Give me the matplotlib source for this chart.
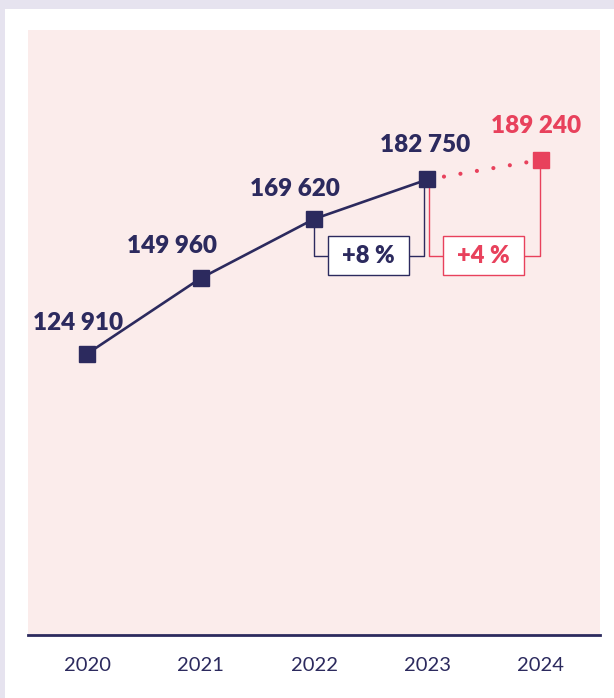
import matplotlib
matplotlib.use("Agg")
import matplotlib.pyplot as plt
from matplotlib.patches import Rectangle

years = ["2020", "2021", "2022", "2023", "2024"]
values = [124910, 149960, 169620, 182750, 189240]
value_labels = ["124 910", "149 960", "169 620", "182 750", "189 240"]
growth_labels = ["+8 %", "+4 %"]

NAVY = "#2c2a5e"
RED = "#e8415c"
PINK = "#fbeceb"
BORDER = "#e6e3ef"
BOLD_FONT = ["Lato"]

W, H = 614, 698
fig = plt.figure(figsize=(W / 100, H / 100), dpi=100)
fig.patch.set_facecolor("white")
# outer frame strips
fig.add_artist(Rectangle((0, 1 - 9 / H), 1, 9 / H, transform=fig.transFigure, color=BORDER, lw=0))
fig.add_artist(Rectangle((0, 0), 5 / W, 1, transform=fig.transFigure, color=BORDER, lw=0))

ax = fig.add_axes([28 / W, (H - 635) / H, 572 / W, 605 / H])
ax.set_facecolor(PINK)
ax.set_xlim(-0.52, 4.52)
ax.set_ylim(31700, 232300)
for s in ["top", "right", "left"]:
    ax.spines[s].set_visible(False)
ax.spines["bottom"].set_color(NAVY)
ax.spines["bottom"].set_linewidth(2)
ax.set_yticks([])
x = list(range(len(years)))
ax.set_xticks(x)
ax.set_xticklabels(years, fontsize=14.5, color=NAVY, family="Lato")
ax.tick_params(axis="x", length=0, pad=16)

# actual line
ax.plot(x[:4], values[:4], color=NAVY, lw=1.9, marker="s", ms=11.5, zorder=4)
# forecast dotted
ax.plot(x[3:], values[3:], color=RED, lw=3.0, linestyle=(0, (0.01, 4.0)),
        dash_capstyle="round", zorder=3)
ax.plot(x[4], values[4], color=RED, marker="s", ms=11.5, zorder=5, lw=0)

lab_dx = [-9, -29, -19, -2, -5]
lab_dy = [24, 25, 23, 27, 27]
for i, (v, lab) in enumerate(zip(values, value_labels)):
    col = RED if i == 4 else NAVY
    t = ax.annotate(lab, (x[i], v), xytext=(lab_dx[i], lab_dy[i]),
                    textcoords="offset pixels", ha="center", va="baseline",
                    fontsize=17.5, fontweight="heavy", color=col, family=BOLD_FONT)

# growth boxes
k = (354 - 160) / (values[4] - values[0])  # px per unit
conn_y = values[0] + (354 - 256) / k
box_h = 39 / k
box_w = 81 / 113.5
dx = 3 / 113.5
cols = [NAVY, RED]
for j, (i0, i1) in enumerate([(2, 3), (3, 4)]):
    c = cols[j]
    cx = (x[i0] + x[i1]) / 2 - 0.02 if j == 0 else (x[i0] + x[i1]) / 2 - 0.01
    left, right = cx - box_w / 2, cx + box_w / 2
    xs0 = x[i0] + (0 if j == 0 else 0.01)
    xs1 = x[i1] - (dx if j == 0 else 0.01)
    lw = 1.0
    ax.plot([xs0, xs0, left], [values[i0], conn_y, conn_y], color=c, lw=lw, zorder=2)
    ax.plot([right, xs1, xs1], [conn_y, conn_y, values[i1]], color=c, lw=lw, zorder=2)
    ax.add_patch(Rectangle((left, conn_y - box_h / 2), box_w, box_h,
                           facecolor="white", edgecolor=c, lw=1.0, zorder=2))
    ax.text(cx, conn_y, growth_labels[j], ha="center", va="center", fontsize=17,
            fontweight="heavy", color=c, family=BOLD_FONT, zorder=3)

fig.savefig("out.png", dpi=100, facecolor=fig.get_facecolor())
